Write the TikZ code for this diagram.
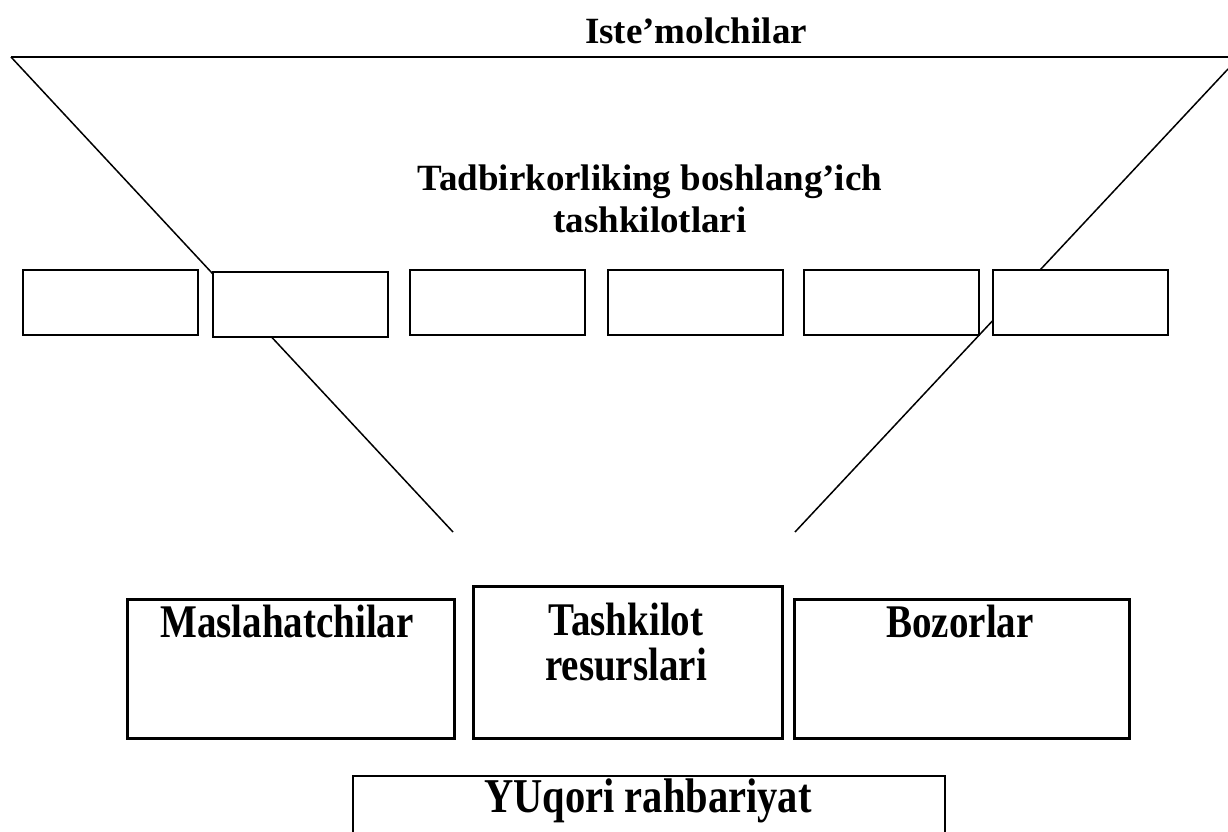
\documentclass[tikz,border=0pt]{standalone}
\usepackage{fontspec}
\usepackage{graphicx}
\setmainfont{Liberation Serif}
\newcommand{\talltext}[1]{\scalebox{1}[1.2]{\begin{tabular}{@{}c@{}}#1\end{tabular}}}
\begin{document}
\begin{tikzpicture}[x=1pt,y=-1pt,
  lbl/.style={font=\fontsize{37}{42}\selectfont\bfseries, align=center, inner sep=0pt},
  lowlbl/.style={font=\fontsize{39}{36}\selectfont\bfseries, inner sep=0pt},
  rowbox/.style={draw, line width=1.5pt, fill=white, minimum width=175pt, minimum height=65pt, inner sep=0pt, anchor=north west},
  bigbox/.style={draw, line width=3pt, fill=white, inner sep=0pt, anchor=north west},
  thinline/.style={line width=1.5pt}]
\useasboundingbox[fill=white] (0,0) rectangle (1228,832);
% funnel lines
\coordinate (tl) at (11,57);
\coordinate (tr) at (1228,57);
\coordinate (ll) at (453,532);
\coordinate (rt) at (1228,69);
\coordinate (rl) at (795,532);
\draw[thinline] (tl) -- (tr);
\draw[thinline] (tl) -- (ll);
\draw[thinline] (rt) -- (rl);
% row of small boxes
\node[rowbox] (r1) at (22,269) {};
\node[rowbox] (r2) at (212,271) {};
\node[rowbox] (r3) at (409,269) {};
\node[rowbox] (r4) at (607,269) {};
\node[rowbox] (r5) at (803,269) {};
\node[rowbox] (r6) at (992,269) {};
% texts
\node[lbl] (ist) at (696,31) {Iste’molchilar};
\node[lbl] (tad) at (650,199) {Tadbirkorliking boshlang’ich\\tashkilotlari};
% lower boxes
\node[bigbox, minimum width=327pt, minimum height=139pt] (mas) at (126,598) {};
\node[bigbox, minimum width=309pt, minimum height=152pt] (res) at (472,585) {};
\node[bigbox, minimum width=335pt, minimum height=139pt] (boz) at (793,598) {};
\node[lowlbl] (tmas) at (287,628) {\talltext{Maslahatchilar}};
\node[lowlbl] (tres) at (626,648) {\talltext{Tashkilot\\resurslari}};
\node[lowlbl] (tboz) at (960,628) {\talltext{Bozorlar}};
% top management
\begin{scope}
\clip (0,0) rectangle (1228,832);
\node[draw, line width=1.5pt, fill=white, inner sep=0pt, anchor=north west, minimum width=592pt, minimum height=100pt] (yuq) at (352,775) {};
\end{scope}
\node[lowlbl, font=\fontsize{40.5}{36}\selectfont\bfseries] (tyuq) at (648,802) {\talltext{YUqori rahbariyat}};
\end{tikzpicture}
\end{document}
